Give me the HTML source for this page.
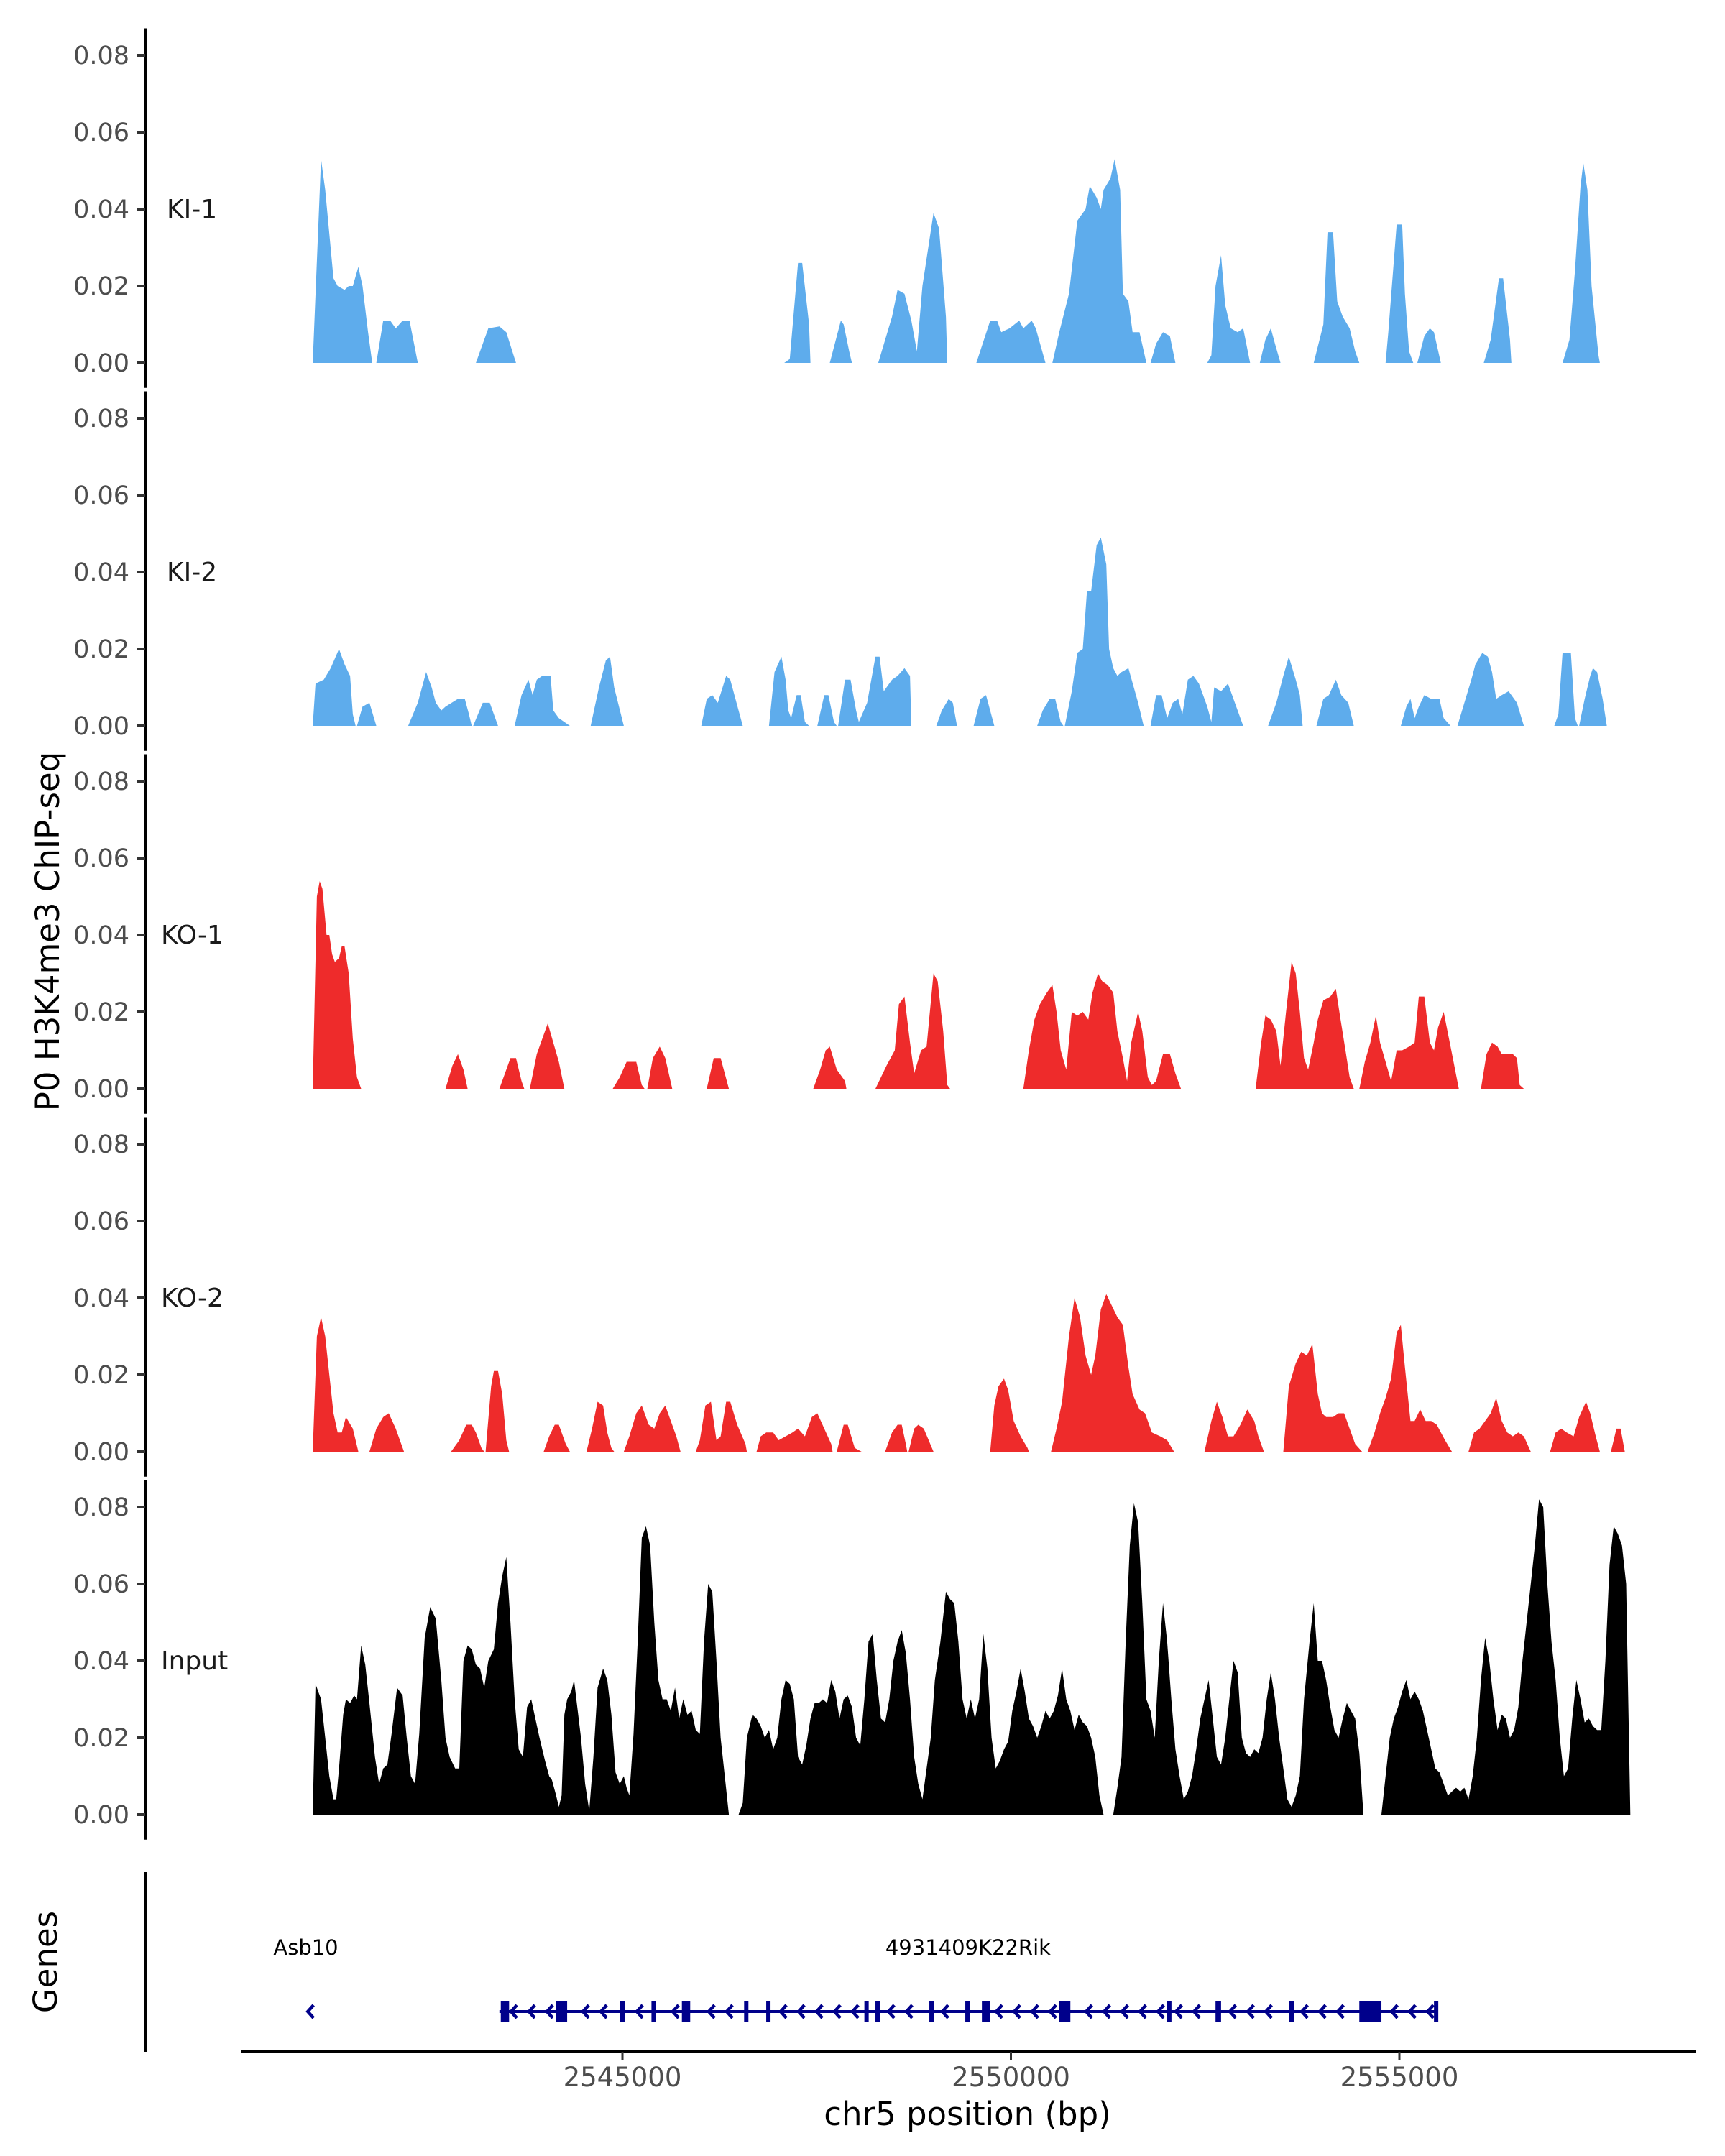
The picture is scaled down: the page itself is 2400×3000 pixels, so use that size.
<!DOCTYPE html>
<html><head><meta charset="utf-8">
<style>
html,body{margin:0;padding:0;background:#fff;}
svg{display:block;font-family:"DejaVu Sans","Liberation Sans",sans-serif;}
</style></head>
<body>
<svg id="chart" width="2400" height="3000" viewBox="0 0 2400 3000" xmlns="http://www.w3.org/2000/svg">
<text x="0" y="0" transform="translate(82,1296) rotate(-90)" text-anchor="middle" font-size="45" fill="#000">P0 H3K4me3 ChIP-seq</text>
<text x="0" y="0" transform="translate(79,2730) rotate(-90)" text-anchor="middle" font-size="45" fill="#000">Genes</text>
<text x="1346" y="2957" text-anchor="middle" font-size="45" fill="#000">chr5 position (bp)</text>
</svg>
<script>
// genomic bins: bp = BIN0 + bin*BINSIZE
const BIN0 = 2536975, BINSIZE = 17.794;
const yTicks = [0, 0.02, 0.04, 0.06, 0.08];
const yTickLabels = ["0.00","0.02","0.04","0.06","0.08"];
const xTicks = [2545000, 2550000, 2555000];
const xTickLabels = ["2545000","2550000","2555000"];
const trackNames = ["KI-1","KI-2","KO-1","KO-2","Input"];
const trackColors = ["#5eacec","#5eacec","#ee2b2b","#ee2b2b","#000000"];

const ki1 = [[227,0],[233,.053],[236,.045],[242,.022],[245,.02],[250,.019],[253,.02],[256,.02],[260,.025],[263,.02],[267,.008],[270,0],[273,0],[278,.011],[283,.011],[287,.009],[292,.011],[297,.011],[303,0],[345,0],[354,.009],[362,.0095],[367,.008],[374,0],[568,0],[572,.001],[578,.026],[581,.026],[586,.01],[587,0],[601,0],[609,.011],[611,.01],[615,.003],[617,0],[636,0],[646,.012],[650,.019],[655,.018],[660,.011],[664,.003],[668,.02],[676,.039],[680,.035],[685,.012],[686,0],[707,0],[717,.011],[722,.011],[725,.008],[731,.009],[738,.011],[741,.009],[747,.011],[750,.009],[757,0],[762,0],[767,.008],[774,.018],[780,.037],[786,.04],[789,.046],[794,.043],[797,.04],[799,.045],[804,.048],[807,.053],[811,.045],[813,.018],[817,.016],[820,.008],[825,.008],[830,0],[833,0],[837,.005],[842,.008],[847,.007],[851,0],[874,0],[877,.002],[880,.02],[884,.028],[887,.015],[891,.009],[896,.008],[900,.009],[905,0],[912,0],[916,.006],[920,.009],[923,.005],[927,0],[951,0],[958,.01],[961,.034],[965,.034],[968,.016],[972,.012],[977,.009],[981,.003],[984,0],[1003,0],[1005,.008],[1011,.036],[1015,.036],[1017,.018],[1020,.003],[1023,0],[1026,0],[1031,.007],[1035,.009],[1038,.008],[1043,0],[1074,0],[1079,.006],[1085,.022],[1088,.022],[1093,.006],[1094,0],[1131,0],[1136,.006],[1140,.024],[1144,.046],[1146,.052],[1149,.045],[1152,.02],[1157,.002],[1158,0]];

const ki2 = [[227,0],[229,.011],[235,.012],[240,.015],[246,.02],[250,.016],[254,.013],[256,.003],[258,0],[259,0],[263,.005],[268,.006],[273,0],[296,0],[303,.006],[309,.014],[313,.01],[316,.006],[320,.004],[323,.005],[332,.007],[337,.007],[340,.003],[342,0],[343,0],[350,.006],[355,.006],[361,0],[373,0],[378,.008],[383,.012],[386,.008],[389,.012],[393,.013],[399,.013],[401,.004],[405,.002],[413,0],[428,0],[434,.01],[439,.017],[442,.018],[445,.01],[452,0],[508,0],[512,.007],[516,.008],[520,.006],[526,.013],[529,.012],[538,0],[557,0],[561,.014],[566,.018],[569,.012],[571,.004],[573,.002],[577,.008],[580,.008],[583,.001],[586,0],[592,0],[597,.008],[600,.008],[604,.001],[606,0],[607,0],[612,.012],[616,.012],[620,.004],[622,.001],[628,.006],[634,.018],[637,.018],[640,.009],[646,.012],[650,.013],[655,.015],[659,.013],[660,0],[678,0],[682,.004],[687,.007],[690,.006],[693,0],[705,0],[710,.007],[714,.008],[720,0],[751,0],[755,.004],[760,.007],[764,.007],[768,.001],[770,0],[771,0],[776,.009],[780,.019],[784,.02],[787,.035],[790,.035],[794,.047],[797,.049],[801,.042],[803,.02],[806,.015],[809,.013],[812,.014],[817,.015],[824,.006],[828,0],[833,0],[837,.008],[841,.008],[845,.002],[849,.006],[853,.007],[856,.003],[860,.012],[864,.013],[868,.011],[874,.005],[877,.001],[879,.01],[884,.009],[889,.011],[894,.006],[898,.002],[900,0],[918,0],[924,.006],[929,.013],[933,.018],[938,.012],[941,.008],[943,0],[953,0],[958,.007],[962,.008],[967,.012],[971,.008],[976,.006],[980,0],[1014,0],[1018,.005],[1021,.007],[1024,.002],[1027,.005],[1031,.008],[1036,.007],[1042,.007],[1045,.002],[1050,0],[1055,0],[1060,.006],[1065,.012],[1068,.016],[1073,.019],[1077,.018],[1080,.014],[1083,.007],[1087,.008],[1092,.009],[1098,.006],[1103,0],[1125,0],[1128,.003],[1131,.019],[1137,.019],[1140,.002],[1142,0],[1143,0],[1147,.007],[1151,.013],[1153,.015],[1156,.014],[1160,.007],[1163,0]];

const ko1 = [[227,0],[230,.05],[232,.054],[234,.052],[237,.04],[239,.04],[241,.035],[243,.033],[246,.034],[248,.037],[250,.037],[253,.03],[256,.013],[259,.003],[262,0],[323,0],[328,.006],[332,.009],[336,.005],[339,0],[362,0],[366,.004],[370,.008],[374,.008],[378,.002],[380,0],[384,0],[389,.009],[393,.013],[397,.017],[401,.012],[405,.007],[409,0],[444,0],[449,.003],[454,.007],[461,.007],[465,.001],[467,0],[469,0],[473,.008],[478,.011],[482,.008],[487,0],[512,0],[517,.008],[522,.008],[528,0],[589,0],[594,.005],[598,.01],[601,.011],[606,.005],[612,.002],[613,0],[634,0],[642,.006],[648,.01],[651,.022],[655,.024],[659,.012],[662,.004],[667,.01],[671,.011],[676,.03],[679,.028],[683,.015],[686,.001],[688,0],[741,0],[745,.01],[749,.018],[753,.022],[758,.025],[762,.027],[765,.02],[768,.01],[772,.005],[776,.02],[780,.019],[784,.02],[788,.018],[791,.025],[795,.03],[798,.028],[802,.027],[806,.025],[809,.015],[813,.008],[816,.002],[819,.012],[824,.02],[827,.015],[831,.003],[834,.001],[837,.002],[842,.009],[847,.009],[851,.004],[855,0],[909,0],[913,.012],[916,.019],[920,.018],[924,.015],[927,.006],[931,.02],[935,.033],[938,.03],[941,.02],[944,.008],[947,.005],[951,.012],[954,.018],[958,.023],[963,.024],[967,.026],[970,.019],[974,.01],[977,.003],[980,0],[984,0],[988,.007],[992,.012],[996,.019],[999,.012],[1003,.007],[1007,.002],[1011,.01],[1015,.01],[1020,.011],[1024,.012],[1027,.024],[1031,.024],[1035,.012],[1038,.01],[1041,.016],[1045,.02],[1050,.011],[1056,0],[1072,0],[1076,.009],[1080,.012],[1084,.011],[1087,.009],[1092,.009],[1095,.009],[1098,.008],[1100,.001],[1103,0]];

const ko2 = [[227,0],[230,.03],[233,.035],[236,.03],[239,.02],[242,.01],[245,.005],[248,.005],[251,.009],[256,.006],[260,0],[268,0],[273,.006],[278,.009],[282,.01],[287,.006],[293,0],[327,0],[333,.003],[338,.007],[342,.007],[345,.005],[349,.001],[351,0],[352,0],[356,.017],[358,.021],[361,.021],[364,.015],[367,.003],[369,0],[394,0],[398,.004],[402,.007],[405,.007],[410,.002],[413,0],[425,0],[429,.006],[433,.013],[437,.012],[440,.005],[443,.001],[445,0],[452,0],[456,.004],[461,.01],[465,.012],[470,.007],[474,.006],[478,.01],[482,.012],[486,.008],[490,.004],[493,0],[504,0],[507,.003],[511,.012],[515,.013],[519,.003],[522,.004],[526,.013],[529,.013],[534,.007],[540,.002],[541,0],[548,0],[551,.004],[555,.005],[560,.005],[564,.003],[569,.004],[574,.005],[578,.006],[583,.004],[588,.009],[592,.01],[597,.006],[602,.002],[603,0],[606,0],[611,.007],[614,.007],[619,.001],[624,0],[641,0],[646,.005],[650,.007],[653,.007],[656,.002],[657,0],[658,0],[662,.006],[665,.007],[669,.006],[676,0],[717,0],[720,.012],[723,.017],[727,.019],[730,.016],[734,.008],[739,.004],[744,.001],[745,0],[761,0],[765,.006],[769,.013],[774,.03],[778,.04],[782,.035],[786,.025],[790,.02],[793,.025],[797,.037],[801,.041],[805,.038],[809,.035],[813,.033],[817,.022],[820,.015],[825,.011],[829,.01],[834,.005],[840,.004],[845,.003],[850,0],[872,0],[877,.008],[881,.013],[885,.009],[889,.004],[893,.004],[898,.007],[903,.011],[908,.008],[911,.004],[915,0],[929,0],[933,.017],[938,.023],[942,.026],[946,.025],[950,.028],[954,.015],[957,.01],[960,.009],[965,.009],[969,.01],[973,.01],[977,.006],[981,.002],[986,0],[990,0],[995,.005],[999,.01],[1003,.014],[1007,.019],[1011,.031],[1014,.033],[1017,.022],[1021,.008],[1024,.008],[1028,.011],[1032,.008],[1036,.008],[1040,.007],[1046,.003],[1051,0],[1063,0],[1067,.005],[1071,.006],[1075,.008],[1079,.01],[1083,.014],[1087,.008],[1091,.005],[1095,.004],[1099,.005],[1103,.004],[1108,0],[1122,0],[1126,.005],[1130,.006],[1134,.005],[1139,.004],[1143,.009],[1148,.013],[1151,.01],[1155,.004],[1158,0],[1166,0],[1170,.006],[1173,.006],[1176,0]];

const input = [[227,0],[229,.034],[233,.03],[236,.02],[239,.01],[242,.004],[244,.004],[246,.012],[249,.026],[251,.03],[254,.029],[257,.031],[259,.03],[262,.044],[265,.039],[268,.029],[272,.015],[275,.008],[278,.012],[281,.013],[284,.021],[288,.033],[292,.031],[295,.02],[298,.01],[301,.008],[304,.021],[308,.046],[312,.054],[316,.051],[320,.035],[323,.02],[326,.015],[330,.012],[333,.012],[336,.04],[339,.044],[342,.043],[345,.039],[348,.038],[351,.033],[354,.04],[358,.043],[361,.055],[364,.062],[367,.067],[370,.05],[373,.03],[376,.017],[379,.015],[382,.028],[385,.03],[388,.025],[391,.02],[395,.014],[398,.01],[400,.009],[403,.005],[405,.002],[407,.005],[409,.026],[411,.03],[414,.032],[416,.035],[418,.029],[421,.02],[424,.008],[427,.001],[430,.015],[433,.033],[437,.038],[440,.035],[443,.026],[446,.011],[449,.008],[452,.01],[454,.007],[456,.005],[459,.021],[462,.045],[465,.072],[468,.075],[471,.07],[474,.05],[477,.035],[480,.03],[483,.03],[486,.027],[489,.033],[492,.025],[495,.03],[498,.026],[501,.027],[504,.022],[507,.021],[510,.045],[513,.06],[516,.058],[519,.04],[522,.02],[525,.01],[528,0],[535,0],[538,.003],[541,.02],[545,.026],[548,.025],[551,.023],[554,.02],[557,.022],[560,.017],[563,.02],[566,.03],[569,.035],[572,.034],[575,.03],[578,.015],[581,.013],[584,.018],[587,.025],[590,.029],[593,.029],[596,.03],[599,.029],[602,.035],[605,.032],[608,.025],[611,.03],[614,.031],[617,.028],[620,.02],[623,.018],[626,.03],[629,.045],[632,.047],[635,.035],[638,.025],[641,.024],[644,.03],[647,.04],[650,.045],[653,.048],[656,.042],[659,.03],[662,.015],[665,.008],[668,.004],[671,.012],[674,.02],[677,.035],[681,.045],[685,.058],[688,.056],[691,.055],[694,.045],[697,.03],[700,.025],[703,.03],[706,.025],[709,.03],[712,.047],[715,.038],[718,.02],[721,.012],[724,.014],[727,.017],[730,.019],[733,.027],[736,.032],[739,.038],[742,.032],[745,.025],[748,.023],[751,.02],[754,.023],[757,.027],[760,.025],[763,.027],[766,.031],[769,.038],[772,.03],[775,.027],[778,.022],[781,.026],[784,.024],[787,.023],[790,.02],[793,.015],[796,.005],[799,0],[806,0],[809,.007],[812,.015],[815,.045],[818,.07],[821,.081],[824,.076],[827,.055],[830,.03],[833,.027],[836,.02],[839,.04],[842,.055],[845,.045],[848,.03],[851,.017],[854,.01],[857,.004],[860,.006],[863,.01],[866,.017],[869,.025],[872,.03],[875,.035],[878,.025],[881,.015],[884,.013],[887,.02],[890,.03],[893,.04],[896,.037],[899,.02],[902,.016],[905,.015],[908,.017],[911,.016],[914,.02],[917,.03],[920,.037],[923,.03],[926,.02],[929,.012],[932,.004],[935,.002],[938,.005],[941,.01],[944,.03],[948,.045],[951,.055],[954,.04],[957,.04],[960,.035],[963,.028],[966,.022],[969,.02],[972,.025],[975,.029],[978,.027],[981,.025],[984,.016],[987,0],[1000,0],[1003,.01],[1006,.02],[1009,.025],[1012,.028],[1015,.032],[1018,.035],[1021,.03],[1024,.032],[1027,.03],[1030,.027],[1033,.022],[1036,.017],[1039,.012],[1042,.011],[1045,.008],[1048,.005],[1051,.006],[1054,.007],[1057,.006],[1060,.007],[1063,.004],[1066,.01],[1069,.02],[1072,.035],[1075,.046],[1078,.04],[1081,.03],[1084,.022],[1087,.026],[1090,.025],[1093,.02],[1096,.022],[1099,.028],[1102,.04],[1105,.05],[1108,.06],[1111,.07],[1114,.082],[1117,.08],[1120,.06],[1123,.045],[1126,.035],[1129,.02],[1132,.01],[1135,.012],[1138,.025],[1141,.035],[1144,.03],[1147,.024],[1150,.025],[1153,.023],[1156,.022],[1159,.022],[1162,.04],[1165,.065],[1168,.075],[1171,.073],[1174,.07],[1177,.06],[1180,0]];

const tracks = [ki1, ki2, ko1, ko2, input];

// genes (bins)
const asb10Pos = 225;
const rikStart = 362, rikEnd = 1040;
const rikExons = [[363,369],[403,411],[449,453],[472,474],[494,500],[539,542],[555,557],[626,628],[634,636],[673,676],[699,701],[711,717],[767,775],[845,847],[880,884],[933,937],[984,1000],[1038,1040]];
const geneLabels = ["Asb10","4931409K22Rik"];

const NS = "http://www.w3.org/2000/svg";
const svg = document.getElementById('chart');
function mk(tag, attrs, parent){const e=document.createElementNS(NS,tag);for(const k in attrs)e.setAttribute(k,attrs[k]);(parent||svg).appendChild(e);return e;}

const PX_PER_BP = (1947-866)/10000;
function bp(bin){return BIN0 + bin*BINSIZE;}
function xScale(b){return 866 + (b-2545000)*PX_PER_BP;}
const AXIS_X = 202, PANEL_H = 505, BASE0 = 505, PX_PER_UNIT = 5350;
function yScale(i, v){return BASE0 + i*PANEL_H - v*PX_PER_UNIT;}

tracks.forEach((data, i) => {
  const g = mk('g', {});
  
  
  const top = yScale(i, 0.087), bot = yScale(i, -0.0065);
  const ax = mk('line', {x1:AXIS_X, x2:AXIS_X, y1:top, y2:bot, stroke:'#000', 'stroke-width':4}, g);
  
  
  yTicks.forEach((t, k) => {
    const y = yScale(i, t);
    const tk = mk('line', {x1:AXIS_X-11, x2:AXIS_X, y1:y, y2:y, stroke:'#333', 'stroke-width':4}, g);
    
    
    const tl = mk('text', {x:AXIS_X-22, y:y+12, 'text-anchor':'end', 'font-size':35, fill:'#4d4d4d'}, g);
    
    
    tl.textContent = yTickLabels[k];
  });
  const lbl = mk('text', {x: i>=2 ? 224 : 232, y: yScale(i,0.04)+12, 'font-size':36, fill:'#1a1a1a'}, g);
  
  
  lbl.textContent = trackNames[i];
  let d = '';
  data.forEach((p, k) => { d += (k ? 'L' : 'M') + xScale(bp(p[0])).toFixed(1) + ' ' + yScale(i, p[1]).toFixed(1); });
  d += 'Z';
  const area = mk('path', {d:d, fill:trackColors[i]}, g);
  
  
});

// genes track
const gg = mk('g', {});


const gax = mk('line', {x1:AXIS_X, x2:AXIS_X, y1:2605, y2:2855, stroke:'#000', 'stroke-width':4}, gg);


const GENE_Y = 2799, NAVY = '#00008b';
function chevron(x){const c=mk('path',{d:`M${x+5} ${GENE_Y-9}L${x-3} ${GENE_Y}L${x+5} ${GENE_Y+9}`,fill:'none',stroke:NAVY,'stroke-width':4.5},gg);}
chevron(xScale(bp(asb10Pos)));
const gl = mk('line', {x1:xScale(bp(rikStart)), x2:xScale(bp(rikEnd)), y1:GENE_Y, y2:GENE_Y, stroke:NAVY, 'stroke-width':4}, gg);


for (let b = rikStart + 10; b < rikEnd - 3; b += 13) {
  const inEx = rikExons.some(e => b >= e[0]-2 && b <= e[1]+2);
  if (!inEx) chevron(xScale(bp(b)));
}
rikExons.forEach(e => {
  const x0 = xScale(bp(e[0])), x1 = xScale(bp(e[1]));
  const r = mk('rect', {x:x0, y:GENE_Y-15, width:Math.max(x1-x0,6), height:30, fill:NAVY}, gg);
  
  
});
const t1 = mk('text', {x:xScale(bp(222)), y:2720, 'text-anchor':'middle', 'font-size':29, fill:'#000'}, gg);


t1.textContent = geneLabels[0];
const t2 = mk('text', {x:xScale(bp(701)), y:2720, 'text-anchor':'middle', 'font-size':29, fill:'#000'}, gg);


t2.textContent = geneLabels[1];

// x axis
const xg = mk('g', {});


const xl = mk('line', {x1:336, x2:2360, y1:2855, y2:2855, stroke:'#000', 'stroke-width':4}, xg);


xTicks.forEach((t, k) => {
  const x = xScale(t);
  const tk = mk('line', {x1:x, x2:x, y1:2855, y2:2867, stroke:'#333', 'stroke-width':3}, xg);
  
  
  const tl = mk('text', {x:x, y:2903, 'text-anchor':'middle', 'font-size':37, fill:'#4d4d4d'}, xg);
  
  
  tl.textContent = xTickLabels[k];
});
</script>
</body></html>
